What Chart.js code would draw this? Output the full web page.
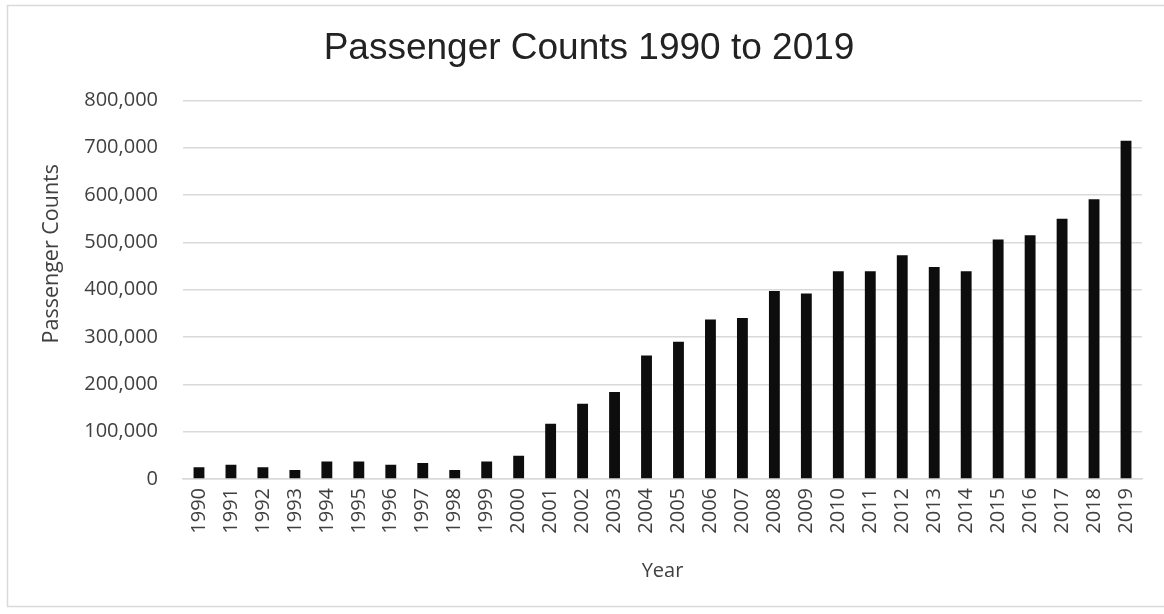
<!DOCTYPE html>
<html>
<head>
<meta charset="utf-8">
<script src="https://cdn.jsdelivr.net/npm/chart.js@4"></script>
<style>
  html, body { margin: 0; padding: 0; background: #ffffff; }
  #wrap { width: 1164px; height: 614px; position: relative; }
</style>
</head>
<body>
<div id="wrap"><canvas id="c" width="1164" height="614"></canvas></div>
<script>
const years = ['1990','1991','1992','1993','1994','1995','1996','1997','1998','1999',
  '2000','2001','2002','2003','2004','2005','2006','2007','2008','2009',
  '2010','2011','2012','2013','2014','2015','2016','2017','2018','2019'];
const passengerCounts = [25000, 30000, 25000, 19000, 37000, 37000, 30000, 34000, 19000, 37000,
  49000, 117000, 159000, 184000, 261000, 290000, 337000, 340000, 397000, 392000,
  439000, 439000, 473000, 448000, 439000, 506000, 515000, 550000, 591000, 715000];
const chartTitle = 'Passenger Counts 1990 to 2019';
const xTitle = 'Year';
const yTitle = 'Passenger Counts';

const borderPlugin = {
  id: 'outerBorder',
  beforeDraw(chart) {
    const ctx = chart.ctx;
    ctx.save();
    ctx.fillStyle = '#ffffff';
    ctx.fillRect(0, 0, chart.width, chart.height);
    ctx.strokeStyle = '#d9d9d9';
    ctx.lineWidth = 1.5;
    ctx.strokeRect(7.5, 5.5, 1160, 601);
    ctx.restore();
  }
};

// Y-axis title placed slightly above the middle of the plot, as in the reference
const yTitlePlugin = {
  id: 'yTitle',
  afterDraw(chart) {
    const ctx = chart.ctx;
    const a = chart.chartArea;
    const cy = a.top + (a.bottom - a.top) * 0.405;
    ctx.save();
    ctx.translate(52, cy);
    ctx.rotate(-Math.PI / 2);
    ctx.fillStyle = '#404040';
    ctx.font = '21.5px "Open Sans"';
    ctx.textAlign = 'center';
    ctx.textBaseline = 'middle';
    ctx.fillText(yTitle, 0, 0);
    ctx.restore();
  }
};

new Chart(document.getElementById('c'), {
  type: 'bar',
  data: {
    labels: years,
    datasets: [{
      label: yTitle,
      data: passengerCounts,
      backgroundColor: '#0d0d0d',
      borderWidth: 0,
      barPercentage: 0.34,
      categoryPercentage: 1.0
    }]
  },
  options: {
    responsive: false,
    animation: false,
    devicePixelRatio: 1,
    layout: { padding: { left: 36, right: 22, top: 0, bottom: 27 } },
    plugins: {
      legend: { display: false },
      tooltip: { enabled: false },
      title: {
        display: true,
        text: chartTitle,
        color: '#222222',
        font: { family: 'Liberation Sans', size: 37, weight: 'normal' },
        padding: { top: 27, bottom: 29 }
      }
    },
    scales: {
      x: {
        grid: { display: false, drawTicks: false },
        border: { display: true, color: '#d9d9d9', width: 1.5 },
        ticks: {
          color: '#404040',
          font: { family: 'Open Sans', size: 20 },
          minRotation: 90,
          maxRotation: 90,
          padding: 9,
          autoSkip: false
        },
        title: {
          display: true,
          text: xTitle,
          color: '#404040',
          font: { family: 'Open Sans', size: 20 },
          padding: { top: 4, bottom: 4 }
        },
        afterFit(scale) { scale.height = 108; }
      },
      y: {
        min: 0,
        max: 800000,
        grid: { color: '#d9d9d9', lineWidth: 1.5, drawTicks: false },
        border: { display: false },
        ticks: {
          stepSize: 100000,
          color: '#404040',
          font: { family: 'Open Sans', size: 20 },
          padding: 25,
          callback: (v) => v.toLocaleString('en-US')
        },
        title: { display: false },
        afterFit(scale) { scale.width = 147; }
      }
    }
  },
  plugins: [borderPlugin, yTitlePlugin]
});
</script>
</body>
</html>
